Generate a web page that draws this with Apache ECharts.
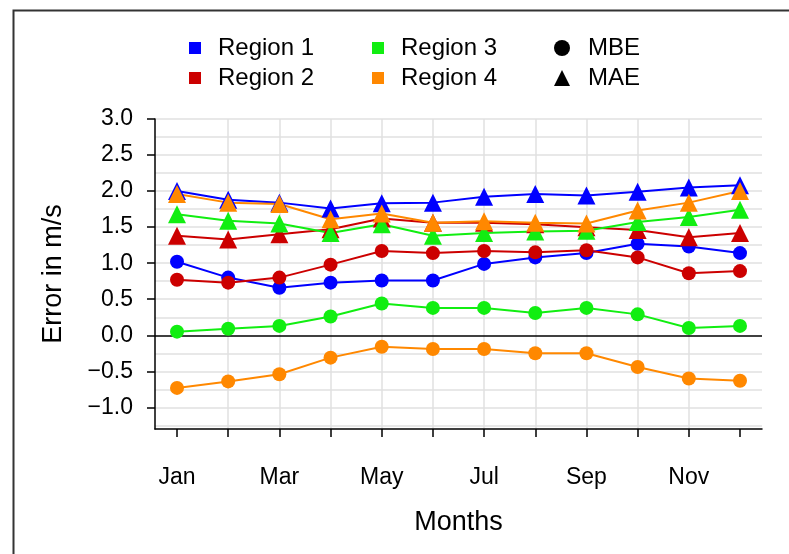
<!DOCTYPE html>
<html>
<head>
<meta charset="utf-8">
<script src="https://cdn.jsdelivr.net/npm/echarts@6/dist/echarts.min.js"></script>
<style>
html,body{margin:0;padding:0;background:#fff;}
#chart{width:789px;height:554px;}
</style>
</head>
<body>
<div id="chart"></div>
<script>
// ---- data ----
var monthNames = ['Jan','Feb','Mar','Apr','May','Jun','Jul','Aug','Sep','Oct','Nov','Dec'];
var monthIndex = [1,2,3,4,5,6,7,8,9,10,11,12];
var labelMonths = [1,3,5,7,9,11];
var regionNames = ['Region 1','Region 2','Region 3','Region 4'];
var regionColors = ['#0000ff','#cc0000','#11ee11','#ff8800'];
var mbe1 = [1.02, 0.80, 0.66, 0.73, 0.76, 0.76, 0.99, 1.08, 1.14, 1.27, 1.23, 1.14];
var mbe2 = [0.77, 0.73, 0.80, 0.98, 1.17, 1.14, 1.17, 1.15, 1.18, 1.08, 0.86, 0.89];
var mbe3 = [0.05, 0.09, 0.13, 0.26, 0.44, 0.38, 0.38, 0.31, 0.38, 0.29, 0.10, 0.13];
var mbe4 = [-0.73, -0.64, -0.54, -0.31, -0.16, -0.19, -0.19, -0.25, -0.25, -0.44, -0.60, -0.63];
var mae1 = [2.00, 1.88, 1.84, 1.76, 1.83, 1.84, 1.92, 1.96, 1.94, 1.99, 2.05, 2.08];
var mae2 = [1.38, 1.33, 1.40, 1.47, 1.62, 1.56, 1.56, 1.54, 1.50, 1.46, 1.36, 1.42];
var mae3 = [1.68, 1.59, 1.55, 1.42, 1.54, 1.38, 1.42, 1.44, 1.45, 1.57, 1.64, 1.74];
var mae4 = [1.96, 1.84, 1.82, 1.61, 1.69, 1.56, 1.58, 1.56, 1.55, 1.73, 1.84, 2.00];
var yTickValues = [-1.0,-0.5,0.0,0.5,1.0,1.5,2.0,2.5,3.0];
var yGridValues = [-1.25,-1.0,-0.75,-0.5,-0.25,0.25,0.5,0.75,1.0,1.25,1.5,1.75,2.0,2.25,2.5,2.75,3.0];

var mbeData = [mbe1, mbe2, mbe3, mbe4];
var maeData = [mae1, mae2, mae3, mae4];

var FONT = "'Liberation Sans', Arial, Helvetica, sans-serif";
var TXT = '#000';

function pairs(arr){ return arr.map(function(v,i){ return [monthIndex[i], v]; }); }

var series = [];
// horizontal grid lines (axis decoration) and zero line
series.push({
  name: 'grid', type: 'line', data: [], silent: true, z: 0, animation: false,
  markLine: {
    z: 0, silent: true, symbol: ['none','none'], label: {show: false}, animation: false,
    lineStyle: {color: '#e1e1e1', width: 1.5, type: 'solid'},
    data: yGridValues.map(function(v){ return {yAxis: v}; })
  }
});
series.push({
  name: 'zero', type: 'line', data: [], silent: true, z: 1, animation: false,
  markLine: {
    z: 1, silent: true, symbol: ['none','none'], label: {show: false}, animation: false,
    lineStyle: {color: '#000', width: 1.5, type: 'solid'},
    data: [{yAxis: 0}]
  }
});
for (var r = 0; r < 4; r++) {
  series.push({
    name: regionNames[r] + ' MBE', type: 'line', data: pairs(mbeData[r]),
    symbol: 'circle', symbolSize: 14, color: regionColors[r],
    lineStyle: {width: 2, color: regionColors[r]}, itemStyle: {color: regionColors[r]},
    silent: true, animation: false, z: 3
  });
  series.push({
    name: regionNames[r] + ' MAE', type: 'line', data: pairs(maeData[r]),
    symbol: 'triangle', symbolSize: 18, color: regionColors[r],
    lineStyle: {width: 2, color: regionColors[r]}, itemStyle: {color: regionColors[r]},
    silent: true, animation: false, z: 3
  });
}
// legend-only series
for (var r2 = 0; r2 < 4; r2++) {
  series.push({name: regionNames[r2], type: 'line', data: [], color: regionColors[r2], itemStyle:{color: regionColors[r2]}});
}
series.push({name: 'MBE', type: 'line', data: [], color: '#000', itemStyle:{color:'#000'}});
series.push({name: 'MAE', type: 'line', data: [], color: '#000', itemStyle:{color:'#000'}});

var legendText = {fontFamily: FONT, fontSize: 24, color: TXT, lineHeight: 24, padding: [0,0,0,12]};

var option = {
  animation: false,
  backgroundColor: '#fff',
  graphic: [{
    type: 'rect', left: 11, top: 8, shape: {width: 900, height: 700},
    style: {fill: 'none', stroke: '#333', lineWidth: 2}, silent: true
  }],
  legend: [
    {orient: 'vertical', left: 184, top: 31, itemWidth: 12, itemHeight: 12, itemGap: 6, selectedMode: false,
     data: [{name:'Region 1', icon:'rect'},{name:'Region 2', icon:'rect'}], textStyle: legendText},
    {orient: 'vertical', left: 367, top: 31, itemWidth: 12, itemHeight: 12, itemGap: 6, selectedMode: false,
     data: [{name:'Region 3', icon:'rect'},{name:'Region 4', icon:'rect'}], textStyle: legendText},
    {orient: 'vertical', left: 549, top: 31, itemWidth: 16, itemHeight: 16, itemGap: 6, selectedMode: false,
     data: [{name:'MBE', icon:'circle'},{name:'MAE', icon:'triangle'}], textStyle: {fontFamily: FONT, fontSize: 24, color: TXT, lineHeight: 24, padding:[0,0,0,13]}}
  ],
  grid: {left: 155, right: 27, top: 119, bottom: 125, containLabel: false},
  xAxis: {
    type: 'value', min: 0.57, max: 12.43, minInterval: 1, maxInterval: 1, splitNumber: 12,
    name: 'Months', nameLocation: 'middle', nameGap: 80,
    nameTextStyle: {fontFamily: FONT, fontSize: 27, color: TXT},
    axisLine: {show: true, onZero: false, lineStyle: {color: '#000', width: 1.5}},
    axisTick: {show: true, length: 8, customValues: monthIndex, lineStyle: {color:'#000', width: 1.5}},
    axisLabel: {customValues: labelMonths, margin: 37, fontFamily: FONT, fontSize: 23, color: TXT,
      formatter: function(v){ var i = monthIndex.indexOf(Math.round(v)); return i >= 0 ? monthNames[i] : ''; }},
    splitLine: {show: true, showMinLine: false, showMaxLine: false, lineStyle: {color: '#e1e1e1', width: 1.5}}
  },
  yAxis: {
    type: 'value', min: -1.3, max: 3.0,
    name: 'Error in m/s', nameLocation: 'middle', nameGap: 88,
    nameTextStyle: {fontFamily: FONT, fontSize: 27, color: TXT},
    axisLine: {show: true, onZero: false, lineStyle: {color: '#000', width: 1.5}},
    axisTick: {show: true, length: 8, customValues: yTickValues, lineStyle: {color:'#000', width: 1.5}},
    axisLabel: {customValues: yTickValues, margin: 22, fontFamily: FONT, fontSize: 23, color: TXT,
      formatter: function(v){ var s = v.toFixed(1); return v < 0 ? '\u2212' + s.slice(1) : s; }},
    splitLine: {show: false}
  },
  series: series
};

var chart = echarts.init(document.getElementById('chart'), null, {renderer: 'canvas'});
chart.setOption(option);
</script>
</body>
</html>
